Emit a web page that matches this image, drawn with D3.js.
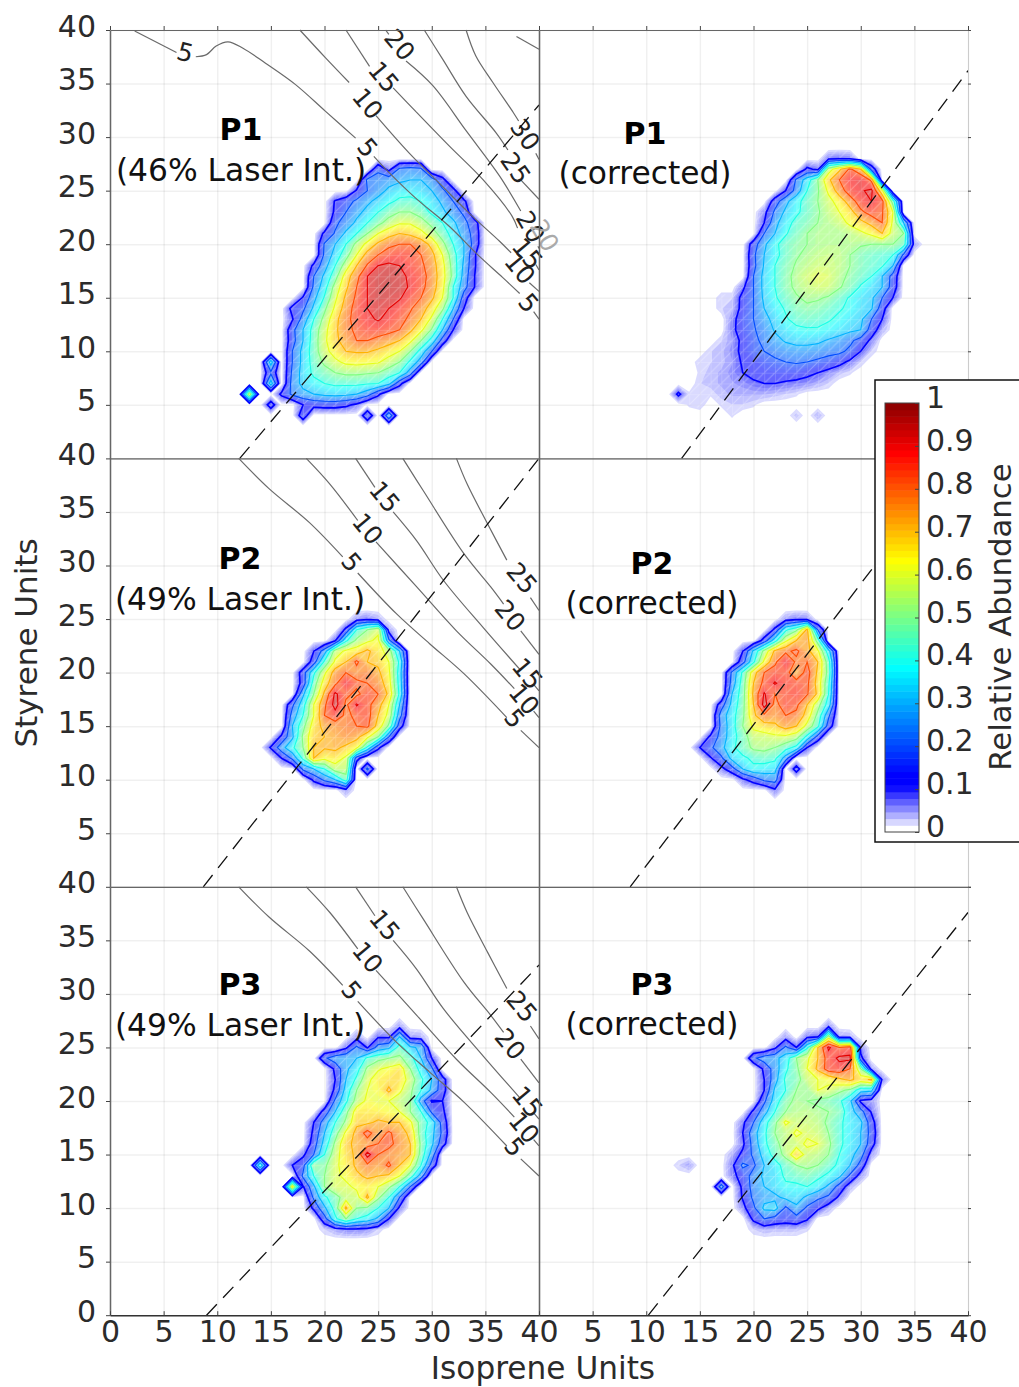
<!DOCTYPE html>
<html>

<head>
    <meta charset="utf-8">
    <style>
        html, body { margin: 0; background: white; }
        text { font-family: "DejaVu Sans"; fill: #2b2b2b; }
        .axis path { stroke: #666; stroke-width: 1.5; }
        .axis line { stroke: #444; }
        .axis text { font-family: "DejaVu Sans"; font-size: 30px; fill: #2b2b2b; }
        .grid line { stroke: #000; stroke-opacity: 0.06; stroke-width: 1.5; }
        .grid path { display: none; }
    </style>
</head>

<body>
    <svg id="chart" width="1019" height="1387"></svg>
    <script src="https://cdn.jsdelivr.net/npm/d3@7"></script>
    <script>
        // each row: styrene units, first isoprene unit, then abundance in percent per isoprene unit
        const p1LaserRows = [
            [27, 25, 18, 7, 22, 24, 22],
            [26, 24, 22, 24, 26, 28, 30, 30, 25, 13],
            [25, 23, 11, 20, 26, 32, 36, 36, 34, 30, 22, 13],
            [24, 21, 11, 16, 22, 28, 33, 38, 42, 43, 40, 35, 28, 20, 12],
            [23, 21, 12, 20, 27, 33, 40, 46, 50, 50, 46, 38, 32, 25, 18],
            [22, 21, 18, 24, 32, 40, 47, 54, 59, 59, 54, 47, 40, 32, 23, 14],
            [21, 20, 12, 21, 32, 40, 50, 60, 66, 70, 68, 63, 55, 45, 36, 26, 16],
            [20, 20, 21, 30, 40, 53, 63, 72, 78, 80, 80, 76, 67, 53, 40, 30, 16],
            [19, 20, 22, 34, 46, 60, 74, 80, 84, 86, 85, 80, 73, 60, 44, 30, 11],
            [18, 19, 12, 26, 40, 55, 70, 81, 90, 92, 90, 86, 82, 75, 63, 46, 28, 11],
            [17, 19, 20, 32, 46, 65, 77, 90, 93, 94, 93, 88, 84, 76, 64, 47, 26, 10],
            [16, 19, 22, 36, 54, 68, 80, 90, 93, 94, 93, 89, 83, 75, 63, 40, 24, 10],
            [15, 18, 11, 27, 41, 58, 72, 82, 90, 93, 92, 91, 85, 80, 72, 60, 40, 15],
            [14, 17, 13, 18, 32, 48, 62, 75, 84, 90, 91, 90, 86, 81, 75, 65, 52, 30, 10],
            [13, 17, 9, 24, 40, 53, 67, 77, 84, 88, 91, 87, 83, 78, 70, 58, 40, 20],
            [12, 17, 17, 30, 44, 57, 68, 77, 82, 85, 85, 83, 80, 72, 62, 49, 30, 10],
            [11, 17, 16, 30, 45, 58, 68, 74, 80, 80, 77, 74, 70, 62, 50, 36, 16],
            [10, 17, 20, 33, 45, 57, 64, 70, 71, 71, 68, 64, 60, 50, 36, 20],
            [9, 15, 35],
            [9, 17, 20, 33, 44, 52, 58, 62, 63, 62, 61, 56, 50, 38, 25],
            [8, 15, 18],
            [8, 17, 22, 34, 42, 46, 50, 52, 52, 51, 50, 45, 40, 25],
            [7, 15, 35],
            [7, 17, 24, 33, 37, 40, 42, 42, 42, 41, 40, 33, 13],
            [6, 13, 58],
            [6, 16, 12, 22, 27, 30, 32, 33, 32, 30, 24, 12],
            [5, 15, 15],
            [5, 18, 10, 13, 14, 14, 12, 8],
            [4, 18, 16],
            [4, 24, 18],
            [4, 26, 28]
        ]
        const p1CorrectedRows = [
            [28, 27, 8, 9, 8],
            [27, 25, 12, 8, 55, 68, 82, 70, 15],
            [26, 24, 22, 35, 50, 68, 80, 88, 90, 78],
            [25, 23, 10, 24, 40, 49, 62, 75, 85, 89, 92, 62],
            [24, 22, 15, 27, 37, 44, 50, 57, 64, 75, 85, 90, 83, 45],
            [23, 21, 7, 22, 32, 38, 44, 49, 55, 60, 66, 78, 84, 81, 60],
            [22, 21, 10, 27, 36, 43, 46, 50, 53, 56, 62, 67, 73, 80, 58, 30],
            [21, 21, 20, 30, 39, 45, 50, 52, 52, 52, 54, 58, 62, 70, 56, 50],
            [20, 20, 15, 28, 38, 44, 48, 50, 52, 53, 53, 53, 51, 50, 50, 50, 45, 6],
            [19, 20, 18, 30, 37, 44, 49, 52, 54, 55, 54, 50, 46, 44, 42, 40, 18],
            [18, 20, 17, 31, 40, 46, 51, 54, 56, 56, 54, 50, 46, 43, 41, 30],
            [17, 20, 20, 33, 40, 47, 53, 57, 60, 58, 53, 48, 44, 40, 30, 16],
            [16, 19, 8, 20, 33, 40, 47, 52, 55, 57, 56, 51, 46, 39, 34, 30, 15],
            [15, 17, 3, 3, 13, 20, 32, 39, 44, 49, 52, 51, 49, 44, 39, 35, 32, 20, 10],
            [14, 17, 3, 4, 13, 20, 30, 36, 41, 46, 48, 47, 44, 41, 38, 34, 31, 14],
            [13, 18, 7, 15, 20, 27, 33, 39, 43, 44, 43, 41, 38, 35, 32, 20, 10],
            [12, 18, 8, 14, 19, 24, 31, 35, 38, 39, 39, 37, 35, 32, 30, 15, 5],
            [11, 17, 3, 6, 12, 17, 23, 27, 31, 33, 33, 32, 29, 26, 22, 16, 8],
            [10, 16, 3, 4, 7, 12, 17, 20, 23, 25, 26, 26, 25, 23, 22, 18, 10, 3],
            [9, 15, 3, 3, 4, 6, 11, 13, 16, 18, 20, 21, 20, 18, 16, 13, 8, 3],
            [8, 15, 2, 4, 5, 7, 10, 12, 13, 14, 14, 14, 12, 10, 7, 4, 2],
            [7, 15, 3, 4, 5, 6, 7, 9, 10, 10, 9, 8, 7, 5, 3],
            [6, 13, 12, 2, 2, 2, 4, 5, 5, 5, 5, 4, 3, 2],
            [5, 14, 2, 3, 0, 2, 3, 3, 2],
            [4, 18, 2, 0, 0, 0, 0, 0, 4, 0, 5]
        ]
        const p2LaserRows = [
            [25, 23, 6, 8, 5],
            [24, 22, 12, 40, 50, 58, 6],
            [23, 21, 9, 38, 52, 58, 62, 22],
            [22, 19, 10, 25, 55, 62, 65, 72, 65, 55, 30],
            [21, 19, 15, 42, 62, 70, 82, 70, 68, 60, 38],
            [20, 18, 15, 38, 58, 75, 80, 76, 78, 72, 62, 35],
            [19, 18, 14, 45, 65, 78, 90, 82, 80, 76, 64, 36],
            [18, 18, 28, 50, 72, 92, 82, 78, 84, 80, 68, 38],
            [17, 17, 18, 36, 60, 78, 94, 78, 91, 83, 74, 60, 30],
            [16, 17, 24, 40, 60, 80, 86, 78, 82, 84, 70, 57, 24],
            [15, 17, 30, 47, 65, 73, 75, 78, 80, 82, 66, 48, 14],
            [14, 16, 12, 28, 52, 68, 70, 73, 76, 73, 62, 50, 20],
            [13, 15, 11, 26, 38, 50, 70, 71, 72, 68, 62, 38, 12],
            [12, 16, 10, 22, 42, 70, 62, 65, 58, 14],
            [11, 18, 22, 30, 40, 55, 55],
            [11, 24, 22],
            [10, 19, 12, 22, 30, 45],
            [9, 22, 6]
        ]
        const p2CorrectedRows = [
            [25, 23, 6, 8, 7],
            [24, 22, 12, 38, 48, 72, 20],
            [23, 21, 14, 36, 58, 70, 74, 45],
            [22, 19, 10, 32, 53, 72, 78, 82, 73, 62, 34],
            [21, 19, 16, 38, 62, 78, 90, 78, 80, 70, 44],
            [20, 18, 22, 42, 66, 80, 84, 84, 72, 84, 68, 46],
            [19, 18, 24, 45, 70, 83, 91, 85, 84, 82, 66, 42],
            [18, 18, 30, 46, 72, 91, 80, 84, 86, 81, 68, 40],
            [17, 17, 15, 33, 47, 70, 94, 77, 85, 82, 70, 54, 35],
            [16, 17, 25, 36, 48, 68, 78, 75, 80, 78, 66, 47, 22],
            [15, 17, 23, 36, 50, 62, 66, 68, 74, 70, 57, 42, 15],
            [14, 16, 12, 24, 36, 45, 56, 56, 58, 58, 54, 37, 16],
            [13, 15, 10, 18, 27, 38, 45, 52, 53, 50, 44, 37, 10],
            [12, 16, 9, 18, 33, 38, 42, 44, 42, 25],
            [11, 17, 7, 16, 30, 38, 36, 34],
            [11, 24, 14],
            [10, 19, 8, 14, 22, 24],
            [9, 22, 8]
        ]
        const p3LaserRows = [
            [27, 27, 6],
            [26, 23, 6, 0, 9, 8, 30, 6, 5],
            [25, 22, 8, 22, 9, 24, 28, 44, 32, 28],
            [24, 20, 18, 26, 28, 30, 42, 47, 50, 52, 44, 30, 10],
            [23, 21, 12, 28, 36, 52, 59, 62, 66, 50, 36, 22],
            [22, 21, 10, 30, 42, 58, 64, 66, 66, 56, 42, 30, 14],
            [21, 21, 12, 34, 50, 60, 62, 72, 62, 52, 40, 28, 14],
            [20, 21, 22, 38, 54, 62, 60, 60, 55, 50, 25, 9, 10],
            [19, 20, 14, 30, 47, 65, 65, 64, 62, 60, 50, 40, 18, 12],
            [18, 19, 10, 25, 40, 52, 68, 68, 72, 70, 70, 62, 46, 36, 16],
            [17, 19, 12, 30, 46, 62, 73, 84, 74, 82, 74, 68, 45, 33, 18],
            [16, 19, 15, 34, 52, 68, 72, 75, 80, 83, 76, 70, 48, 32, 14],
            [15, 18, 8, 20, 40, 56, 66, 72, 94, 80, 76, 74, 70, 46, 26],
            [14, 14, 38],
            [14, 17, 10, 16, 50, 48, 58, 64, 72, 78, 74, 82, 70, 60, 40, 16],
            [13, 18, 22, 40, 50, 58, 62, 68, 72, 70, 68, 60, 45, 25],
            [12, 17, 65, 9, 28, 50, 58, 58, 62, 64, 60, 52, 40, 20],
            [11, 19, 22, 38, 46, 55, 56, 72, 52, 40, 20],
            [10, 19, 12, 28, 44, 72, 50, 48, 40, 30, 8],
            [9, 20, 16, 38, 50, 40, 36, 28, 10],
            [8, 20, 3, 6, 8, 8, 7, 3]
        ]
        const p3CorrectedRows = [
            [27, 27, 7],
            [26, 23, 6, 0, 8, 9, 55, 6, 5],
            [25, 22, 8, 22, 10, 38, 70, 92, 80, 85, 7],
            [24, 20, 18, 25, 27, 35, 50, 58, 70, 85, 92, 92, 12],
            [23, 21, 12, 25, 38, 48, 60, 72, 85, 86, 80, 50, 6],
            [22, 21, 10, 26, 42, 46, 56, 60, 62, 68, 72, 66, 72, 8],
            [21, 21, 10, 32, 40, 50, 50, 60, 58, 52, 48, 34, 32],
            [20, 21, 18, 35, 47, 52, 50, 48, 46, 42, 32, 8, 6],
            [19, 20, 12, 26, 40, 50, 53, 54, 52, 50, 46, 34, 24, 9],
            [18, 19, 8, 20, 36, 48, 62, 56, 56, 54, 48, 42, 36, 32, 14],
            [17, 19, 10, 26, 38, 50, 54, 62, 58, 56, 50, 42, 36, 30, 16],
            [16, 19, 8, 24, 38, 46, 56, 56, 62, 60, 52, 42, 36, 30, 14],
            [15, 18, 5, 12, 22, 34, 44, 53, 68, 56, 54, 50, 40, 34, 24, 6],
            [14, 13, 3, 6],
            [14, 18, 8, 22, 18, 30, 36, 44, 50, 52, 50, 44, 38, 30, 16],
            [13, 18, 7, 14, 24, 32, 34, 42, 44, 46, 42, 38, 32, 18, 6],
            [12, 17, 25],
            [12, 19, 12, 24, 30, 34, 38, 38, 40, 36, 28, 16, 5],
            [11, 19, 11, 22, 27, 28, 32, 34, 28, 22, 18, 8],
            [10, 19, 7, 18, 32, 34, 18, 28, 18, 12, 5],
            [9, 20, 12, 20, 16, 14, 16, 11],
            [8, 20, 3, 5, 4, 4, 4, 2]
        ]

        // grey mass contours, broken where their labels sit: [isoprene, styrene] points
        const massLinesTop = [
            [[2.3, 39.9], [6.2, 37.9]],
            [[8, 37.5], [9, 37.7], [9.9, 38.5], [11, 38.9], [12.4, 38.3], [14.5, 36.9], [17.3, 34.9], [20.1, 32.4], [22.9, 29.9]],
            [[24.6, 28.2], [26, 26.7], [28.5, 24.3], [31.6, 21.7], [34.3, 19], [36.6, 16.9], [38.2, 15.4]],
            [[39.5, 13.7], [40, 13]],
            [[17.7, 40], [20.1, 37.4], [22.3, 35.1]],
            [[24.8, 32], [27.9, 28.5], [30.7, 25.7], [33.8, 22.6], [36.3, 20.3], [37.4, 19.2]],
            [[39.1, 16.4], [40, 15.6]],
            [[22, 40], [24.2, 36.6]],
            [[26.4, 34.6], [28.5, 32.4], [31.6, 29.2], [34.8, 26], [37.5, 22.6], [38, 21.5]],
            [[39.7, 18.1], [40, 17.6]],
            [[25.7, 40], [26, 39.6]],
            [[27.6, 37.1], [30.1, 34.8], [33.2, 30.6], [36.3, 26.4], [38.3, 23.1]],
            [[39.9, 19.8], [40, 19.6]],
            [[29.3, 40], [31, 37.3], [33.2, 33.8], [36, 30.4], [37.1, 28.8]],
            [[38.3, 26], [40, 24.2]],
            [[33.2, 40], [34.1, 37.6], [35.7, 35.1], [37.6, 32.3], [38.1, 31.5]],
            [[39.7, 28.5], [40, 27.9]],
            [[37.9, 39.4], [40, 38.2]]
        ]
        const massLinesLower = [
            [[12, 40], [14.8, 37.2], [18.6, 34], [21.7, 30.8]],
            [[23.1, 29.3], [26.7, 25.5], [29.8, 22.7], [33, 19.9], [37, 15.8]],
            [[38.3, 14.6], [40, 13]],
            [[18.3, 40], [20.5, 37.6], [23.1, 34.2]],
            [[24.8, 32.2], [28.6, 28], [32.3, 23.9], [35.5, 20.8], [37.7, 18.5]],
            [[39.5, 16.4], [40, 15.8]],
            [[22.9, 40], [24.7, 37.3]],
            [[26.4, 35], [28.6, 32.3], [31.1, 28.6], [34.8, 24.2], [38.3, 20.2]],
            [[39.5, 18.9], [40, 18.3]],
            [[27.3, 40], [29.2, 37], [33, 31.1], [35.5, 28], [36.7, 26.4]],
            [[38.3, 23.9], [40, 21.7]],
            [[32.3, 40], [33.3, 37.6], [35.2, 33.9], [37, 30.5]],
            [[39.2, 27], [40, 25.8]]
        ]
        // label text, isoprene, styrene, rotation
        const massLabelsTop = [
            ["5", 7, 37.9, 15], ["20", 27, 38.6, 50], ["15", 25.5, 35.6, 50], ["10", 24, 33.1, 50], ["5", 24, 29, 50],
            ["30", 38.7, 30.2, 55], ["25", 37.8, 27.1, 55], ["20", 39.2, 21.6, 60], ["15", 38.9, 19.1, 50],
            ["10", 38.2, 17.7, 50], ["5", 39, 14.5, 50]
        ]
        const massLabelsLower = [
            ["5", 22.5, 30.3, 50], ["5", 37.7, 15.7, 50], ["10", 24, 33.4, 50], ["10", 38.6, 17.5, 50],
            ["15", 25.6, 36.4, 50], ["15", 38.9, 19.9, 50], ["20", 37.3, 25.3, 50], ["25", 38.4, 28.8, 50]
        ]

        const tickValues = [0, 5, 10, 15, 20, 25, 30, 35, 40]
        const legendTicks = [0, 0.1, 0.2, 0.3, 0.4, 0.5, 0.6, 0.7, 0.8, 0.9, 1]
        const lineLevels = [0.1, 0.2, 0.3, 0.4, 0.5, 0.6, 0.7, 0.8, 0.9]
        const jetStops = [0, 0.1, 0.125, 0.375, 0.625, 0.875, 1]
        const jetColors = ["#ffffff", "#0000ff", "#0000ff", "#00ffff", "#ffff00", "#ff0000", "#800000"]

        const panelWidth = 429
        const panelHeight = 428.4
        const originX = 110
        const originY = 30

        const panels = [
            { col: 0, row: 0, rows: p1LaserRows, dash: [[12.1, 0], [40, 33]], lines: massLinesTop, labels: massLabelsTop,
              title: "P1", note: "(46% Laser Int.)", tx: 241, ty1: 140, ty2: 181 },
            { col: 1, row: 0, rows: p1CorrectedRows, dash: [[13.3, 0], [40, 36.2]],
              title: "P1", note: "(corrected)", tx: 645, ty1: 144, ty2: 184 },
            { col: 0, row: 1, rows: p2LaserRows, dash: [[8.7, 0], [40, 40]], lines: massLinesLower, labels: massLabelsLower,
              title: "P2", note: "(49% Laser Int.)", tx: 240, ty1: 569, ty2: 610 },
            { col: 1, row: 1, rows: p2CorrectedRows, dash: [[8.5, 0], [38.9, 40]],
              title: "P2", note: "(corrected)", tx: 652, ty1: 574, ty2: 614 },
            { col: 0, row: 2, rows: p3LaserRows, dash: [[9, 0], [40, 32.7]], lines: massLinesLower, labels: massLabelsLower,
              title: "P3", note: "(49% Laser Int.)", tx: 240, ty1: 995, ty2: 1036 },
            { col: 1, row: 2, rows: p3CorrectedRows, dash: [[10.2, 0], [40, 37.6]],
              title: "P3", note: "(corrected)", tx: 652, ty1: 995, ty2: 1035 }
        ]

        const svg = d3.select("#chart")
        const x = d3.scaleLinear().domain([0, 40]).range([0, panelWidth])
        const y = d3.scaleLinear().domain([0, 40]).range([panelHeight, 0])
        const jet = d3.scaleLinear().domain(jetStops).range(jetColors).clamp(true)

        // the thin white triangle seams of the surface plot
        const cellW = x(1) - x(0)
        const cellH = y(0) - y(1)
        const seam = svg.append("defs").append("pattern")
            .attr("id", "seam")
            .attr("patternUnits", "userSpaceOnUse")
            .attr("width", cellW)
            .attr("height", cellH)
        seam.append("path")
            .attr("d", `M0,${cellH}L${cellW},0M0,0H${cellW}M0,0V${cellH}`)
            .attr("stroke", "white")
            .attr("stroke-opacity", 0.3)
            .attr("fill", "none")

        const bands = d3.range(1, 65).map(k => k / 64)
        const gridSize = 41

        function makeGrid(rows) {
            let values = new Array(gridSize * gridSize).fill(0)
            rows.forEach(r => {
                r.slice(2).forEach((v, i) => {
                    values[r[0] * gridSize + r[1] + i] = v / 100
                })
            })
            return values
        }

        // contour coordinates are cell centred, so grid point i sits at i + 0.5
        const toScreen = d3.geoTransform({
            point: function (cx, cy) {
                this.stream.point(x(cx - 0.5), y(cy - 0.5))
            }
        })
        const contourPath = d3.geoPath(toScreen)
        const massLine = d3.line().x(d => x(d[0])).y(d => y(d[1])).curve(d3.curveCatmullRom)

        function drawPanel(p) {
            let g = svg.append("g")
                .attr("transform", `translate(${originX + p.col * panelWidth},${originY + p.row * panelHeight})`)

            g.append("g").attr("class", "grid")
                .attr("transform", `translate(0,${panelHeight})`)
                .call(d3.axisBottom(x).tickValues(tickValues).tickSize(-panelHeight).tickFormat(""))
            g.append("g").attr("class", "grid")
                .call(d3.axisLeft(y).tickValues(tickValues).tickSize(-panelWidth).tickFormat(""))

            let values = makeGrid(p.rows)
            let contours = d3.contours().size([gridSize, gridSize])

            let fill = g.append("g").attr("opacity", 0.6)
            fill.selectAll("path")
                .data(contours.thresholds(bands)(values))
                .enter()
                .append("path")
                .attr("d", contourPath)
                .attr("fill", d => jet(d.value + 1 / 128))

            g.append("path")
                .attr("d", contourPath(contours.thresholds([0.02])(values)[0]))
                .attr("fill", "url(#seam)")

            g.append("g").selectAll("path")
                .data(contours.thresholds(lineLevels)(values))
                .enter()
                .append("path")
                .attr("d", contourPath)
                .attr("fill", "none")
                .attr("stroke", d => jet(d.value))
                .attr("stroke-width", d => d.value < 0.15 ? 1.6 : 1.1)

            if (p.lines) {
                g.append("g").selectAll("path")
                    .data(p.lines)
                    .enter()
                    .append("path")
                    .attr("d", massLine)
                    .attr("fill", "none")
                    .attr("stroke", "#6a6a6a")
                    .attr("stroke-width", 1.2)
                g.append("g").selectAll("text")
                    .data(p.labels)
                    .enter()
                    .append("text")
                    .attr("transform", d => `translate(${x(d[1])},${y(d[2])}) rotate(${d[3]})`)
                    .attr("text-anchor", "middle")
                    .attr("dominant-baseline", "central")
                    .attr("font-size", 25)
                    .style("fill", "#222")
                    .text(d => d[0])
            }

            g.append("line")
                .attr("x1", x(p.dash[0][0])).attr("y1", y(p.dash[0][1]))
                .attr("x2", x(p.dash[1][0])).attr("y2", y(p.dash[1][1]))
                .attr("stroke", "#111")
                .attr("stroke-width", 1.3)
                .attr("stroke-dasharray", "15,9")
        }

        panels.forEach(drawPanel)

        // stray grey label that spills over the top right panel
        svg.append("text")
            .attr("transform", `translate(${originX + x(40.5)},${originY + y(20.8)}) rotate(60)`)
            .attr("text-anchor", "middle")
            .attr("dominant-baseline", "central")
            .attr("font-size", 25)
            .style("fill", "#aaa")
            .text("20")

        // frame and axes
        for (let r = 0; r < 3; r++) {
            let yAxis = svg.append("g").attr("class", "axis")
                .attr("transform", `translate(${originX},${originY + r * panelHeight})`)
                .call(d3.axisLeft(y).tickValues(r == 2 ? tickValues : tickValues.slice(1)).tickSize(4).tickSizeOuter(0).tickPadding(10))
            yAxis.selectAll("text").attr("dy", "0.2em")

            svg.append("g").attr("class", "axis")
                .attr("transform", `translate(${originX + panelWidth},${originY + r * panelHeight})`)
                .call(d3.axisRight(y).tickValues(tickValues).tickSize(0).tickFormat(""))

            let edge = svg.append("g").attr("class", "axis")
                .attr("transform", `translate(${originX + 2 * panelWidth},${originY + r * panelHeight})`)
                .call(d3.axisRight(y).tickValues(tickValues).tickSize(3).tickSizeOuter(0).tickFormat(""))
            edge.select("path").style("stroke", "#ccc").style("stroke-width", 1)
        }
        for (let c = 0; c < 2; c++) {
            let topAxis = svg.append("g").attr("class", "axis")
                .attr("transform", `translate(${originX + c * panelWidth},${originY})`)
                .call(d3.axisTop(x).tickValues(tickValues).tickSize(4).tickSizeOuter(0).tickFormat(""))
            topAxis.select("path").style("stroke-width", 1.2)

            for (let r = 1; r < 3; r++) {
                svg.append("g").attr("class", "axis")
                    .attr("transform", `translate(${originX + c * panelWidth},${originY + r * panelHeight})`)
                    .call(d3.axisTop(x).tickValues(tickValues).tickSize(0).tickFormat(""))
                    .select("path").style("stroke-width", 1.2)
            }

            let bottomAxis = svg.append("g").attr("class", "axis")
                .attr("transform", `translate(${originX + c * panelWidth},${originY + 3 * panelHeight})`)
                .call(d3.axisBottom(x).tickValues(c == 0 ? tickValues : tickValues.slice(1)).tickSize(-4).tickSizeOuter(0).tickPadding(7))
            bottomAxis.select("path").style("stroke", "#333")
            bottomAxis.selectAll("text").attr("dy", "0.65em")
        }

        // panel captions
        panels.forEach(p => {
            svg.append("text")
                .attr("x", p.tx).attr("y", p.ty1)
                .attr("text-anchor", "middle")
                .attr("font-size", 30)
                .attr("font-weight", "bold")
                .style("fill", "#000")
                .text(p.title)
            svg.append("text")
                .attr("x", p.tx).attr("y", p.ty2)
                .attr("text-anchor", "middle")
                .attr("font-size", 31.3)
                .style("fill", "#111")
                .text(p.note)
        })

        svg.append("text")
            .attr("x", 543).attr("y", 1379)
            .attr("text-anchor", "middle")
            .attr("font-size", 31.2)
            .text("Isoprene Units")
        svg.append("text")
            .attr("transform", "translate(37,643) rotate(-90)")
            .attr("text-anchor", "middle")
            .attr("font-size", 31)
            .text("Styrene Units")

        // colour bar
        const legend = svg.append("g")
        legend.append("rect")
            .attr("x", 875).attr("y", 380)
            .attr("width", 200).attr("height", 462)
            .attr("fill", "white")
            .attr("stroke", "#111")
            .attr("stroke-width", 1.5)

        const legendY = d3.scaleLinear().domain([0, 1]).range([832, 403])
        legend.selectAll("rect.band")
            .data(d3.range(64).map(k => k / 64))
            .enter()
            .append("rect")
            .attr("class", "band")
            .attr("x", 885)
            .attr("width", 34)
            .attr("y", d => legendY(d + 1 / 64))
            .attr("height", d => legendY(d) - legendY(d + 1 / 64) + 0.5)
            .attr("fill", d => jet(d))
        legend.append("rect")
            .attr("x", 885).attr("y", 403)
            .attr("width", 34).attr("height", 429)
            .attr("fill", "none")
            .attr("stroke", "#444")

        const legendAxis = legend.append("g").attr("class", "axis")
            .attr("transform", "translate(919,0)")
            .call(d3.axisRight(legendY).tickValues(legendTicks).tickSize(-4).tickSizeOuter(0).tickPadding(7)
                .tickFormat(d => String(d)))
        legendAxis.select("path").style("display", "none")
        legendAxis.selectAll("text").attr("dy", "0.15em")

        legend.append("text")
            .attr("transform", "translate(1011,617) rotate(-90)")
            .attr("text-anchor", "middle")
            .attr("font-size", 30.8)
            .text("Relative Abundance")
    </script>
</body>

</html>
